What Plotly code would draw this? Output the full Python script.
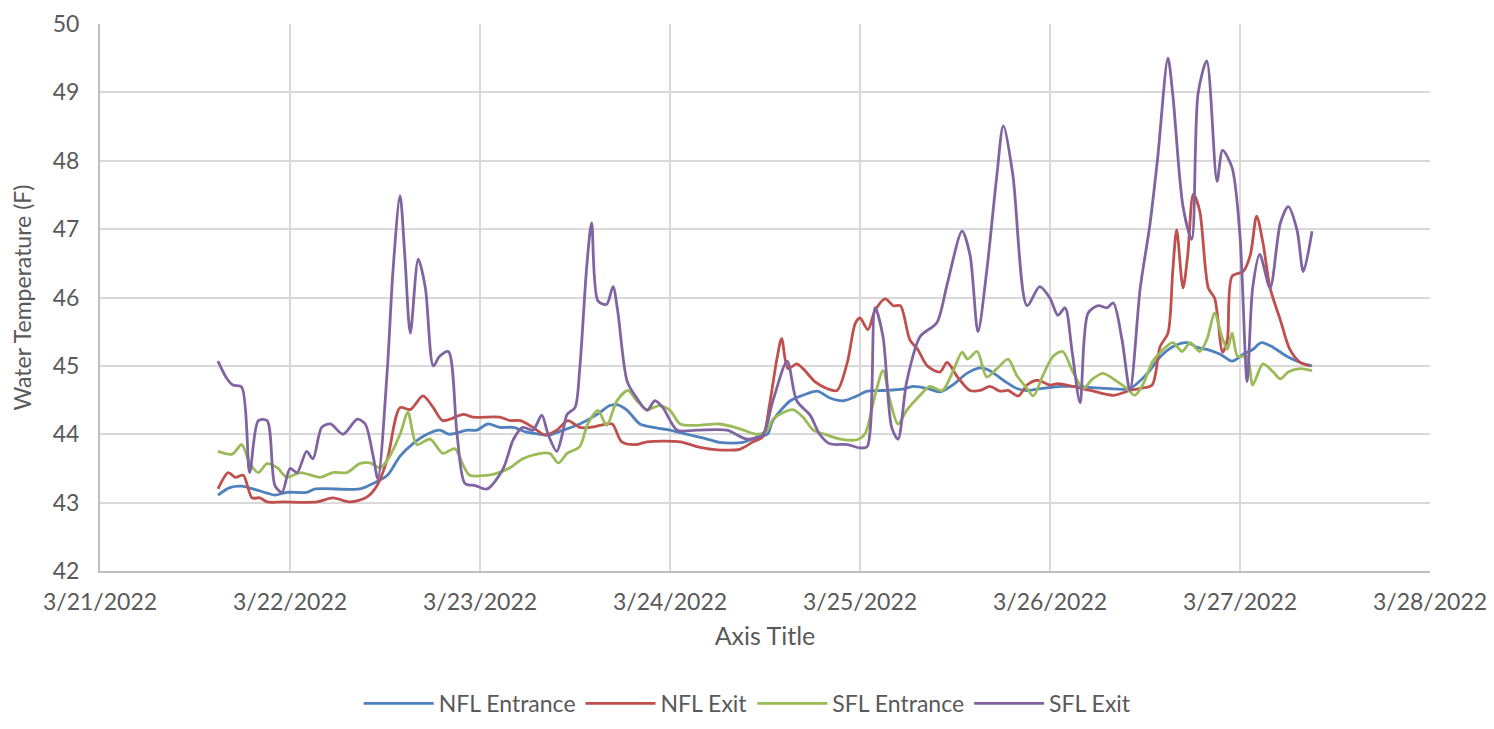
import pandas as pd
import plotly.graph_objects as go

BASE = pd.Timestamp("2022-03-21 00:00")

# hours after 3/21/2022 00:00 and water temperature (F)
NFL_ENT_H = [14.9, 16.4, 17.9, 19.3, 21.1, 22.1, 23.6, 26.1, 27.2, 32.8, 34.5, 36.3, 37.9, 39.5, 41.3, 42.9,
             44.2, 46.4, 47.6, 49.0, 50.5, 52.2, 53.9, 55.6, 56.8, 58.5, 60.6, 62.8, 64.4, 65.4, 66.6, 68.2,
             69.9, 72.0, 74.1, 76.7, 78.3, 81.2, 83.0, 84.3, 85.0, 87.2, 88.8, 90.6, 92.2, 93.9, 95.6, 96.9,
             98.9, 101.4, 102.7, 104.8, 106.1, 107.7, 109.5, 111.2, 112.4, 114.1, 115.8, 117.1, 119.1, 121.3,
             122.9, 127.2, 130.1, 132.3, 133.9, 135.5, 137.3, 138.6, 139.8, 141.5, 143.0, 144.4, 145.6, 146.7,
             148.2, 149.9, 151.6, 153.1]
NFL_ENT_T = [43.11, 43.22, 43.24, 43.20, 43.14, 43.11, 43.15, 43.15, 43.20, 43.20, 43.28, 43.40, 43.68, 43.86,
             44.00, 44.06, 44.00, 44.06, 44.06, 44.15, 44.10, 44.10, 44.03, 44.00, 43.99, 44.06, 44.15, 44.29,
             44.42, 44.43, 44.35, 44.15, 44.10, 44.06, 44.00, 43.93, 43.88, 43.88, 43.96, 44.00, 44.20, 44.49,
             44.57, 44.63, 44.53, 44.49, 44.56, 44.63, 44.64, 44.66, 44.70, 44.66, 44.62, 44.72, 44.89, 44.97,
             44.93, 44.79, 44.67, 44.64, 44.67, 44.70, 44.70, 44.67, 44.67, 44.89, 45.13, 45.28, 45.34, 45.27,
             45.24, 45.17, 45.07, 45.17, 45.24, 45.34, 45.27, 45.14, 45.05, 45.00]

NFL_EXIT_H = [14.9, 16.2, 17.1, 18.1, 19.2, 20.2, 21.1, 23.1, 27.4, 29.4, 31.6, 33.7, 35.0, 36.3, 37.9, 39.2,
              40.8, 42.1, 43.3, 45.9, 47.1, 50.5, 51.8, 53.1, 54.7, 56.2, 57.7, 59.1, 60.6, 61.9, 63.2, 64.7,
              65.9, 67.8, 69.1, 73.3, 75.4, 77.4, 80.8, 82.5, 83.7, 84.6, 85.5, 86.1, 86.9, 88.0, 88.8, 90.3,
              91.8, 93.1, 94.4, 95.4, 96.0, 97.0, 97.9, 99.2, 100.2, 101.1, 102.3, 103.3, 104.5, 106.1, 107.0,
              108.3, 109.9, 111.2, 112.4, 113.7, 114.7, 116.0, 117.1, 118.4, 120.0, 121.0, 122.9, 125.1, 128.0,
              130.1, 131.4, 132.9, 133.9, 134.9, 135.5, 136.0, 136.8, 137.4, 138.1, 138.9, 140.0, 140.8, 141.8,
              142.4, 143.0, 144.4, 145.3, 146.1, 146.9, 147.8, 149.1, 150.3, 151.6, 152.8]
NFL_EXIT_T = [43.20, 43.44, 43.37, 43.40, 43.07, 43.07, 43.01, 43.01, 43.01, 43.07, 43.01, 43.08, 43.25, 43.64,
              44.39, 44.36, 44.56, 44.39, 44.20, 44.29, 44.25, 44.25, 44.20, 44.20, 44.10, 43.99, 44.06, 44.20,
              44.10, 44.10, 44.13, 44.15, 43.89, 43.85, 43.89, 43.89, 43.82, 43.78, 43.78, 43.89, 43.96, 44.45,
              45.10, 45.40, 44.96, 45.03, 44.96, 44.77, 44.67, 44.64, 45.05, 45.62, 45.70, 45.53, 45.81, 45.98,
              45.88, 45.88, 45.38, 45.24, 45.00, 44.91, 45.05, 44.84, 44.64, 44.64, 44.70, 44.63, 44.64, 44.56,
              44.72, 44.79, 44.72, 44.74, 44.70, 44.64, 44.57, 44.64, 44.67, 44.72, 45.28, 45.48, 46.38, 46.99,
              46.14, 46.62, 47.51, 47.27, 46.14, 45.99, 45.20, 45.38, 46.31, 46.38, 46.62, 47.19, 46.80, 46.14,
              45.67, 45.24, 45.05, 45.00]

SFL_ENT_H = [14.9, 16.7, 17.9, 18.9, 20.0, 21.1, 22.4, 23.6, 25.3, 27.8, 29.4, 31.2, 32.8, 34.1, 35.4, 36.4,
             37.9, 38.9, 40.0, 41.7, 43.3, 44.8, 45.9, 46.7, 48.9, 49.9, 51.8, 53.4, 55.2, 56.8, 57.9, 59.0,
             60.6, 61.6, 62.9, 64.0, 65.3, 66.7, 67.8, 69.1, 70.7, 72.0, 73.3, 75.4, 78.3, 80.8, 83.0, 84.3,
             85.0, 87.5, 88.8, 90.1, 91.8, 93.5, 95.6, 96.6, 97.9, 98.9, 99.8, 100.8, 101.9, 103.6, 104.8,
             106.4, 107.7, 108.9, 109.6, 110.8, 112.0, 113.3, 114.7, 115.8, 117.1, 117.9, 119.1, 120.4, 121.6,
             122.9, 124.2, 125.4, 126.7, 128.5, 129.7, 130.7, 131.7, 133.0, 134.3, 135.5, 136.7, 137.7, 138.9,
             139.8, 140.8, 141.7, 142.4, 143.0, 143.7, 144.9, 145.6, 146.9, 148.2, 149.1, 150.1, 151.6, 153.1]
SFL_ENT_T = [43.75, 43.71, 43.85, 43.58, 43.44, 43.57, 43.51, 43.37, 43.44, 43.37, 43.44, 43.44, 43.57, 43.58,
             43.51, 43.64, 44.00, 44.32, 43.85, 43.93, 43.72, 43.79, 43.54, 43.40, 43.40, 43.42, 43.51, 43.64,
             43.71, 43.72, 43.58, 43.72, 43.82, 44.15, 44.35, 44.13, 44.49, 44.64, 44.49, 44.36, 44.42, 44.35,
             44.15, 44.13, 44.15, 44.08, 44.00, 44.06, 44.22, 44.36, 44.25, 44.06, 43.99, 43.93, 43.92, 44.00,
             44.57, 44.93, 44.49, 44.15, 44.35, 44.57, 44.70, 44.64, 44.91, 45.20, 45.10, 45.21, 44.84, 44.96,
             45.10, 44.86, 44.67, 44.56, 44.86, 45.14, 45.21, 44.91, 44.67, 44.81, 44.89, 44.77, 44.67, 44.57,
             44.72, 45.07, 45.24, 45.34, 45.21, 45.34, 45.21, 45.38, 45.77, 45.43, 45.24, 45.48, 45.14, 45.14,
             44.72, 45.03, 44.91, 44.81, 44.91, 44.96, 44.93]

SFL_EXIT_H = [14.9, 16.0, 16.8, 17.9, 18.9, 20.0, 21.1, 22.1, 23.0, 24.0, 24.9, 26.1, 26.9, 28.0, 29.1, 30.7,
              32.5, 33.5, 34.5, 35.1, 36.3, 37.0, 37.9, 38.5, 39.2, 40.2, 41.1, 42.1, 42.9, 44.0, 45.1, 46.1,
              47.4, 48.9, 50.9, 52.2, 53.4, 54.7, 55.8, 56.6, 57.7, 58.4, 59.0, 60.0, 60.6, 61.5, 62.1, 62.9,
              64.0, 64.8, 65.4, 66.6, 67.8, 69.1, 70.1, 71.1, 72.9, 75.4, 79.2, 81.7, 83.7, 85.0, 86.8, 88.0,
              89.7, 90.9, 92.2, 94.4, 96.0, 96.9, 97.9, 98.9, 100.0, 100.8, 101.9, 103.6, 105.7, 107.0, 108.9,
              109.9, 110.9, 112.0, 113.3, 114.1, 115.3, 117.1, 118.7, 120.0, 121.0, 121.9, 122.8, 123.8, 124.8,
              126.1, 127.2, 128.0, 129.1, 130.1, 131.4, 132.6, 133.6, 134.9, 135.5, 136.8, 137.9, 138.7, 139.8,
              141.1, 141.8, 143.0, 144.0, 144.9, 145.6, 146.5, 147.8, 149.1, 150.1, 151.2, 152.0, 153.1]
SFL_EXIT_T = [45.07, 44.82, 44.72, 44.69, 43.44, 44.20, 44.20, 43.25, 43.15, 43.50, 43.44, 43.75, 43.64, 44.10,
              44.15, 44.00, 44.22, 44.15, 43.68, 43.35, 44.96, 46.38, 47.49, 46.62, 45.48, 46.56, 46.14, 45.00,
              45.14, 45.21, 44.00, 43.28, 43.25, 43.20, 43.49, 43.92, 44.10, 44.06, 44.28, 44.00, 43.75, 44.00,
              44.29, 44.39, 44.96, 46.48, 47.09, 45.95, 45.90, 46.16, 45.80, 44.77, 44.53, 44.35, 44.49, 44.39,
              44.06, 44.06, 44.06, 43.93, 43.99, 44.49, 45.07, 44.49, 44.28, 44.00, 43.86, 43.85, 43.80, 43.82,
              45.85, 45.43, 44.10, 43.93, 44.77, 45.43, 45.63, 46.19, 46.97, 46.62, 45.50, 46.38, 47.80, 48.51,
              47.80, 45.88, 46.16, 45.99, 45.74, 45.85, 45.20, 44.46, 45.77, 45.88, 45.85, 45.92, 45.38, 44.64,
              46.14, 47.05, 48.04, 49.50, 48.98, 47.33, 46.85, 48.98, 49.46, 47.70, 48.15, 47.90, 46.90, 44.77,
              46.14, 46.63, 46.14, 47.09, 47.33, 46.99, 46.38, 46.97]

SERIES = [
    ("NFL Entrance", NFL_ENT_H, NFL_ENT_T, "#4F81BD"),
    ("NFL Exit", NFL_EXIT_H, NFL_EXIT_T, "#C0504D"),
    ("SFL Entrance", SFL_ENT_H, SFL_ENT_T, "#9BBB59"),
    ("SFL Exit", SFL_EXIT_H, SFL_EXIT_T, "#8064A2"),
]

FONT = "Lato"
TXT = "#595959"

fig = go.Figure()
for name, hrs, temps, color in SERIES:
    x = [BASE + pd.Timedelta(hours=h) for h in hrs]
    fig.add_trace(go.Scatter(x=x, y=temps, mode="lines", name=name,
                             line=dict(color=color, width=2.8, shape="spline", smoothing=0.8)))

fig.update_layout(
    width=1494, height=729,
    margin=dict(l=92, r=72, t=16, b=159),
    paper_bgcolor="white", plot_bgcolor="white",
    font=dict(family=FONT, size=23, color=TXT),
    legend=dict(orientation="h", x=0.487, xanchor="center", y=-0.242, yanchor="middle",
                font=dict(size=23, color=TXT), itemwidth=70, traceorder="normal"),
    showlegend=True,
)
fig.update_xaxes(
    type="date", range=["2022-03-21", "2022-03-28"], dtick=86400000, tick0="2022-03-21",
    tickformat="%-m/%-d/%Y", showgrid=True, gridcolor="#D9D9D9", gridwidth=2,
    showline=True, linecolor="#BFBFBF", linewidth=2, ticks="", ticklabelstandoff=9,
    tickfont=dict(size=23, color=TXT), zeroline=False, automargin=False,
    ticklabeloverflow="allow",
    title=dict(text="Axis Title", font=dict(size=25, color=TXT), standoff=14),
)
fig.update_yaxes(
    range=[42, 50], dtick=1, showgrid=True, gridcolor="#D9D9D9", gridwidth=2,
    showline=True, linecolor="#BFBFBF", linewidth=2, ticks="", ticklabelstandoff=14,
    tickfont=dict(size=23, color=TXT), zeroline=False, automargin=False,
    ticklabeloverflow="allow",
    title=dict(text="Water Temperature (F)", font=dict(size=23, color=TXT), standoff=16),
)

fig.write_html("out.html")
